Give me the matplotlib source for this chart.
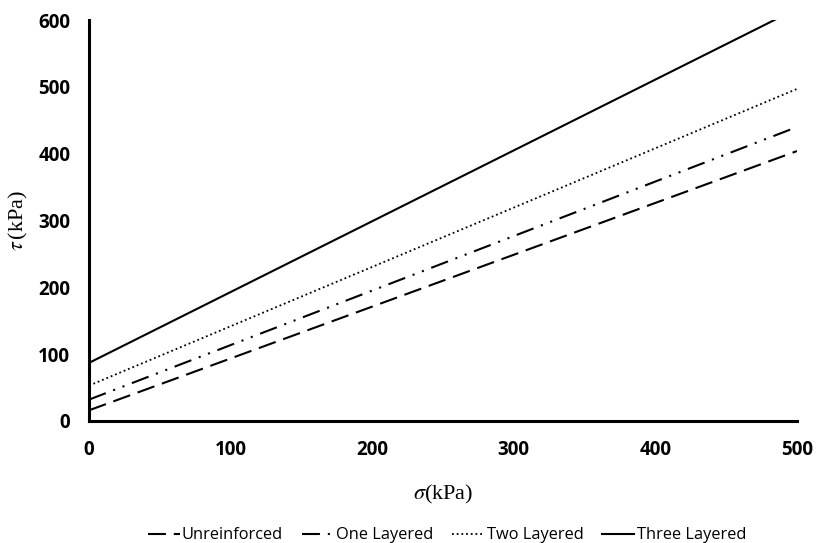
import matplotlib.pyplot as plt
import numpy as np

# shear strength envelopes (kPa)
sigma = [0, 500]
unreinforced = [16, 404]
one_layered = [32, 440]
two_layered = [53, 497]
three_layered = [87, 617]

labels = ['Unreinforced', 'One Layered', 'Two Layered', 'Three Layered']
xticks = [0, 100, 200, 300, 400, 500]
yticks = [0, 100, 200, 300, 400, 500, 600]

plt.rcParams['mathtext.fontset'] = 'stix'

fig = plt.figure(figsize=(8.17, 5.43), dpi=100)
ax = fig.add_axes([0.109, 0.2247, 0.8665, 0.7383])

ax.plot(sigma, unreinforced, color='black', lw=1.5, dashes=(8.6, 3.8), label=labels[0])
ax.plot(sigma, one_layered, color='black', lw=1.5, dashes=(8.6, 3.8, 1, 3.8, 1, 3.8), label=labels[1])
ax.plot(sigma, two_layered, color='black', lw=1.3, dashes=(1, 1.6), label=labels[2])
ax.plot(sigma, three_layered, color='black', lw=1.5, label=labels[3])

ax.set_xlim(0, 500)
ax.set_ylim(0, 600)
ax.set_xticks(xticks)
ax.set_yticks(yticks)
ax.tick_params(length=0)
ax.tick_params(axis='y', pad=13.5)
ax.tick_params(axis='x', pad=14)
for t in ax.get_xticklabels() + ax.get_yticklabels():
    t.set_fontfamily('Open Sans')
    t.set_fontweight('bold')
    t.set_fontsize(13.5)

for s in ['top', 'right']:
    ax.spines[s].set_visible(False)
for s in ['left', 'bottom']:
    ax.spines[s].set_linewidth(2.2)

ax.set_xlabel(r'$\sigma$(kPa)', fontsize=16, fontfamily='Liberation Serif', labelpad=16)
ax.set_ylabel(r'$\tau\,$(kPa)', fontsize=16, fontfamily='Liberation Serif', labelpad=6)

fig.legend(loc='lower center', bbox_to_anchor=(0.547, -0.028), ncol=4, frameon=False,
           prop={'family': 'Open Sans', 'size': 11.8}, handlelength=1.95,
           handletextpad=0.15, columnspacing=1.15)

fig.savefig('out.png', dpi=100)
